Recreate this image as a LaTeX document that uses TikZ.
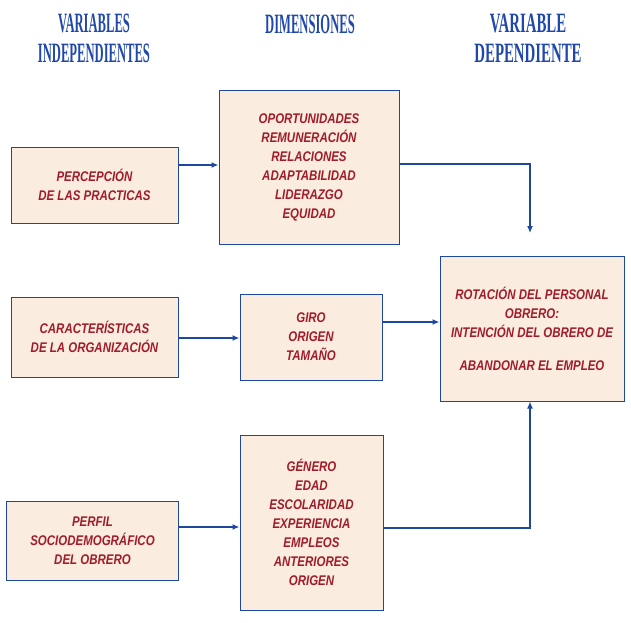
\documentclass[tikz,border=0pt]{standalone}
\usepackage{fontspec}
\usetikzlibrary{arrows.meta}
\newfontfamily\headfont[FakeStretch=0.53]{Liberation Serif}
\newfontfamily\headfontn[FakeStretch=0.45]{Liberation Serif}
\newfontfamily\bodyfont[FakeStretch=0.82]{Liberation Sans}
\definecolor{headblue}{RGB}{32,72,170}
\definecolor{lineblue}{RGB}{30,72,160}
\definecolor{txtred}{RGB}{160,28,42}
\definecolor{boxfill}{RGB}{250,236,222}
\begin{document}
\begin{tikzpicture}[x=1pt,y=-1pt,
  head/.style={inner sep=0pt,anchor=north,align=center,text=headblue,
    font=\headfont\bfseries\fontsize{28}{30}\selectfont},
  headn/.style={head,font=\headfontn\bfseries\fontsize{28}{30}\selectfont},
  vbox/.style={draw=lineblue,line width=1pt,fill=boxfill,inner sep=0pt,
    align=center,text=txtred,font=\bodyfont\bfseries\itshape\fontsize{14}{19}\selectfont},
  arrthick/.style={draw=lineblue,line width=2pt,-{Latex[length=7pt,width=6pt]}},
  arrthin/.style={draw=lineblue,line width=1.3pt,-{Latex[length=7pt,width=6pt]}}]
\useasboundingbox (0,0) rectangle (631,622);
% headers
\node[headn] (h1) at (94,14) {VARIABLES\\INDEPENDIENTES};
\node[headn] (h2) at (310,15) {DIMENSIONES};
\node[head] (h3) at (528,14) {VARIABLE\\DEPENDIENTE};
% boxes
\node[vbox,minimum width=167pt,minimum height=76pt] (P) at (94.5,185) {PERCEPCIÓN\\DE LAS PRACTICAS};
\node[vbox,minimum width=180pt,minimum height=154pt] (D1) at (309,167) {OPORTUNIDADES\\REMUNERACIÓN\\RELACIONES\\ADAPTABILIDAD\\LIDERAZGO\\EQUIDAD};
\node[vbox,minimum width=167pt,minimum height=80pt] (C) at (94.5,337) {CARACTERÍSTICAS\\DE LA ORGANIZACIÓN};
\node[vbox,minimum width=142pt,minimum height=86pt] (D2) at (311,337) {GIRO\\ORIGEN\\TAMAÑO};
\node[vbox,minimum width=172pt,minimum height=79pt] (Pf) at (92.5,540.5) {PERFIL\\SOCIODEMOGRÁFICO\\DEL OBRERO};
\node[vbox,minimum width=143pt,minimum height=175pt] (D3) at (311.5,522.5) {GÉNERO\\EDAD\\ESCOLARIDAD\\EXPERIENCIA\\EMPLEOS\\ANTERIORES\\ORIGEN};
\node[vbox,minimum width=184pt,minimum height=145pt] (Dep) at (532,328.5) {ROTACIÓN DEL PERSONAL\\OBRERO:\\INTENCIÓN DEL OBRERO DE\\[14pt]ABANDONAR EL EMPLEO};
% connectors
\coordinate (t1) at (530,233);
\draw[arrthick] (P.east |- 0,165) -- (D1.west |- 0,165);
\draw[arrthick] (C.east |- 0,338) -- (D2.west |- 0,338);
\draw[arrthick] (Pf.east |- 0,527) -- (D3.west |- 0,527);
\draw[arrthin] (D1.east |- 0,164) -| (t1);
\draw[arrthick] (D2.east |- 0,322) -- (Dep.west |- 0,322);
\draw[arrthin] (D3.east |- 0,528) -| (Dep.south -| t1);
\end{tikzpicture}
\end{document}
